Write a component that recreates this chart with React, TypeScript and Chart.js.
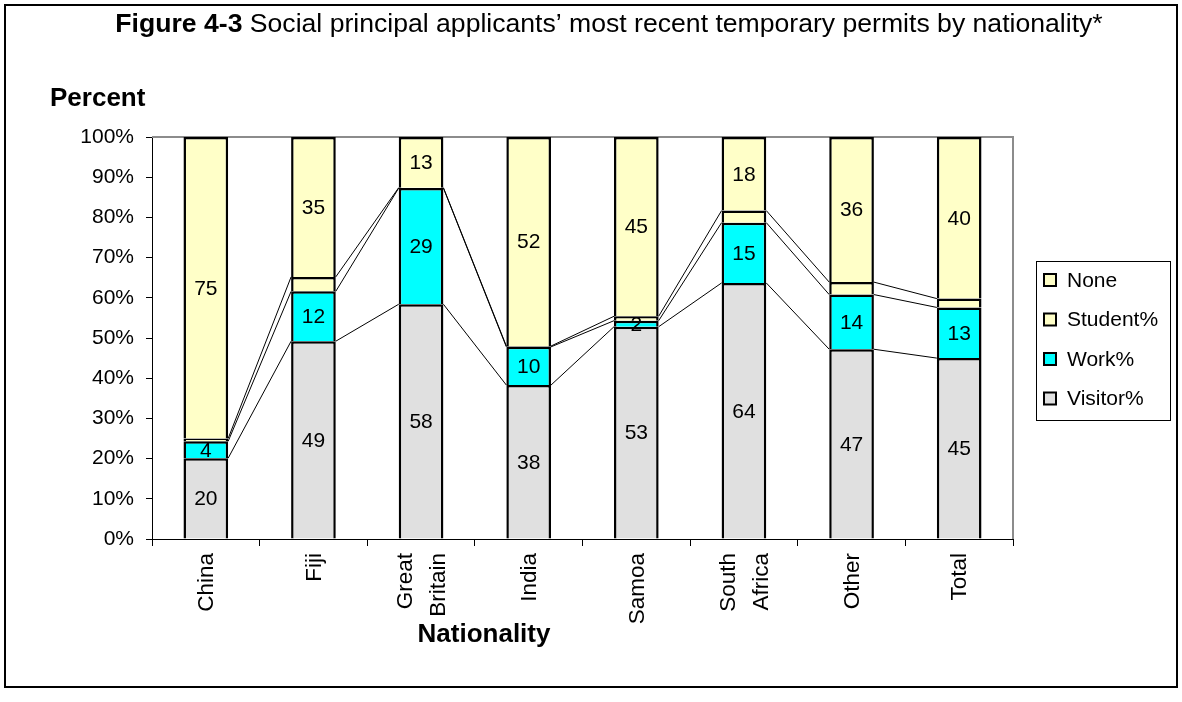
import React, { useEffect, useRef } from "react";
import { Chart, registerables } from "chart.js";

Chart.register(...registerables);

const FONT = '"Liberation Sans", Arial, Helvetica, sans-serif';

// Nationality categories (multi-word names are split onto two lines)
const nationalities = ["China", "Fiji", "Great Britain", "India", "Samoa", "South Africa", "Other", "Total"];

// Share of applicants by most recent temporary permit (%)
const visitorPct = [20.1, 49.2, 58.4, 38.3, 52.8, 63.7, 47.2, 45.0];
const workPct = [4.2, 12.4, 28.9, 9.5, 1.5, 15.0, 13.6, 12.6];
const studentPct = [0.7, 3.6, 0.1, 0.2, 1.1, 3.0, 3.1, 2.2];
const nonePct = [75.0, 34.8, 12.6, 52.0, 44.6, 18.3, 36.1, 40.2];

const yTicks = [0, 10, 20, 30, 40, 50, 60, 70, 80, 90, 100];

const seriesNames = ["Visitor%", "Work%", "Student%", "None"];
const seriesColors = ["#E0E0E0", "#00FFFF", "#FFFFC8", "#FFFFC8"];
const labelledSeries = [0, 1, 3];

const titleBold = "Figure 4-3";
const titleRest = " Social principal applicants\u2019 most recent temporary permits by nationality*";

const decorations = {
  id: "decorations",
  beforeDatasetsDraw(chart: any) {
    const { ctx, chartArea } = chart;
    ctx.save();
    // plot area frame (top and right)
    ctx.strokeStyle = "#8c8c8c";
    ctx.lineWidth = 2;
    ctx.beginPath();
    ctx.moveTo(chartArea.left, chartArea.top);
    ctx.lineTo(chartArea.right, chartArea.top);
    ctx.lineTo(chartArea.right, chartArea.bottom);
    ctx.stroke();
    // series lines joining segment tops of neighbouring bars
    ctx.strokeStyle = "#000";
    ctx.lineWidth = 1;
    for (let d = 0; d < 3; d++) {
      const bars = chart.getDatasetMeta(d).data as any[];
      for (let i = 0; i < bars.length - 1; i++) {
        const a = bars[i];
        const b = bars[i + 1];
        ctx.beginPath();
        ctx.moveTo(a.x + a.width / 2, a.y);
        ctx.lineTo(b.x - b.width / 2, b.y);
        ctx.stroke();
      }
    }
    ctx.restore();
  },
  afterDraw(chart: any) {
    const { ctx, chartArea } = chart;
    ctx.save();

    // value labels inside segments
    ctx.fillStyle = "#000";
    ctx.font = `21px ${FONT}`;
    ctx.textAlign = "center";
    ctx.textBaseline = "middle";
    labelledSeries.forEach((d) => {
      const meta = chart.getDatasetMeta(d);
      const values = chart.data.datasets[d].data as number[];
      meta.data.forEach((bar: any, i: number) => {
        ctx.fillText(String(Math.round(values[i])), bar.x, (bar.y + bar.base) / 2 + 1);
      });
    });

    // rotated category labels
    const xScale = chart.scales.x;
    ctx.font = `22.5px ${FONT}`;
    ctx.textAlign = "right";
    ctx.textBaseline = "middle";
    nationalities.forEach((name, i) => {
      const lines = name.split(" ");
      const cx = xScale.getPixelForValue(i);
      const lineGap = 33;
      lines.forEach((line, k) => {
        const off = (k - (lines.length - 1) / 2) * lineGap;
        ctx.save();
        ctx.translate(cx + off + 1, chartArea.bottom + 14);
        ctx.rotate(-Math.PI / 2);
        ctx.fillText(line, 0, 0);
        ctx.restore();
      });
    });

    // title
    ctx.textAlign = "left";
    ctx.textBaseline = "alphabetic";
    ctx.font = `bold 26.6px ${FONT}`;
    const wBold = ctx.measureText(titleBold).width;
    ctx.font = `26.6px ${FONT}`;
    const wRest = ctx.measureText(titleRest).width;
    const startX = 609 - (wBold + wRest) / 2;
    ctx.font = `bold 26.6px ${FONT}`;
    ctx.fillText(titleBold, startX, 32);
    ctx.font = `26.6px ${FONT}`;
    ctx.fillText(titleRest, startX + wBold, 32);

    // axis titles
    ctx.font = `bold 26px ${FONT}`;
    ctx.fillText("Percent", 50, 106);
    ctx.textAlign = "center";
    ctx.fillText("Nationality", 484, 642);

    // legend
    const lx = 1036, ly = 261, lw = 134, lh = 159;
    ctx.lineWidth = 1;
    ctx.strokeStyle = "#000";
    ctx.strokeRect(lx + 0.5, ly + 0.5, lw, lh);
    ctx.font = `21px ${FONT}`;
    ctx.textAlign = "left";
    ctx.textBaseline = "middle";
    const order = [3, 2, 1, 0];
    order.forEach((d, k) => {
      const cy = 280 + k * 39.5;
      ctx.fillStyle = seriesColors[d];
      ctx.fillRect(1044, cy - 6, 12, 12);
      ctx.lineWidth = 2;
      ctx.strokeRect(1044, cy - 6, 12, 12);
      ctx.fillStyle = "#000";
      ctx.fillText(seriesNames[d], 1067, cy + 1);
    });

    // outer frame
    ctx.lineWidth = 2;
    ctx.strokeStyle = "#000";
    ctx.strokeRect(5, 5, 1172, 682);
    ctx.restore();
  },
};

export default function App() {
  const canvasRef = useRef<HTMLCanvasElement | null>(null);

  useEffect(() => {
    if (!canvasRef.current) return;
    const series = [visitorPct, workPct, studentPct, nonePct];
    const chart = new Chart(canvasRef.current, {
      type: "bar",
      data: {
        labels: nationalities,
        datasets: series.map((values, d) => ({
          label: seriesNames[d],
          data: values,
          backgroundColor: seriesColors[d],
          borderColor: "#000",
          borderWidth: 2.5,
          categoryPercentage: 1,
          barPercentage: 0.415,
        })),
      },
      options: {
        responsive: false,
        devicePixelRatio: 1,
        animation: false,
        events: [],
        layout: { padding: { top: 137, left: 0, right: 169, bottom: 53 } },
        plugins: {
          legend: { display: false },
          title: { display: false },
          tooltip: { enabled: false },
        },
        scales: {
          x: {
            stacked: true,
            afterFit: (scale: any) => {
              scale.height = 110;
            },
            grid: {
              offset: true,
              drawOnChartArea: false,
              drawTicks: true,
              tickLength: 7,
              color: "#000",
            },
            border: { color: "#000", width: 1 },
            ticks: { display: false, autoSkip: false },
          },
          y: {
            stacked: true,
            min: 0,
            max: 100,
            afterFit: (scale: any) => {
              scale.width = 152;
            },
            afterBuildTicks: (scale: any) => {
              scale.ticks = yTicks.map((v) => ({ value: v }));
            },
            grid: {
              drawOnChartArea: false,
              drawTicks: true,
              tickLength: 6,
              color: "#000",
            },
            border: { color: "#000", width: 1 },
            ticks: {
              padding: 12,
              color: "#000",
              font: { family: FONT, size: 21 },
              callback: (v: any) => `${v}%`,
            },
          },
        },
      },
      plugins: [decorations],
    });
    return () => chart.destroy();
  }, []);

  return (
    <div style={{ position: "fixed", left: 0, top: 0, width: 1182, height: 702, background: "#fff" }}>
      <canvas ref={canvasRef} width={1182} height={702} style={{ width: 1182, height: 702, display: "block" }} />
    </div>
  );
}
